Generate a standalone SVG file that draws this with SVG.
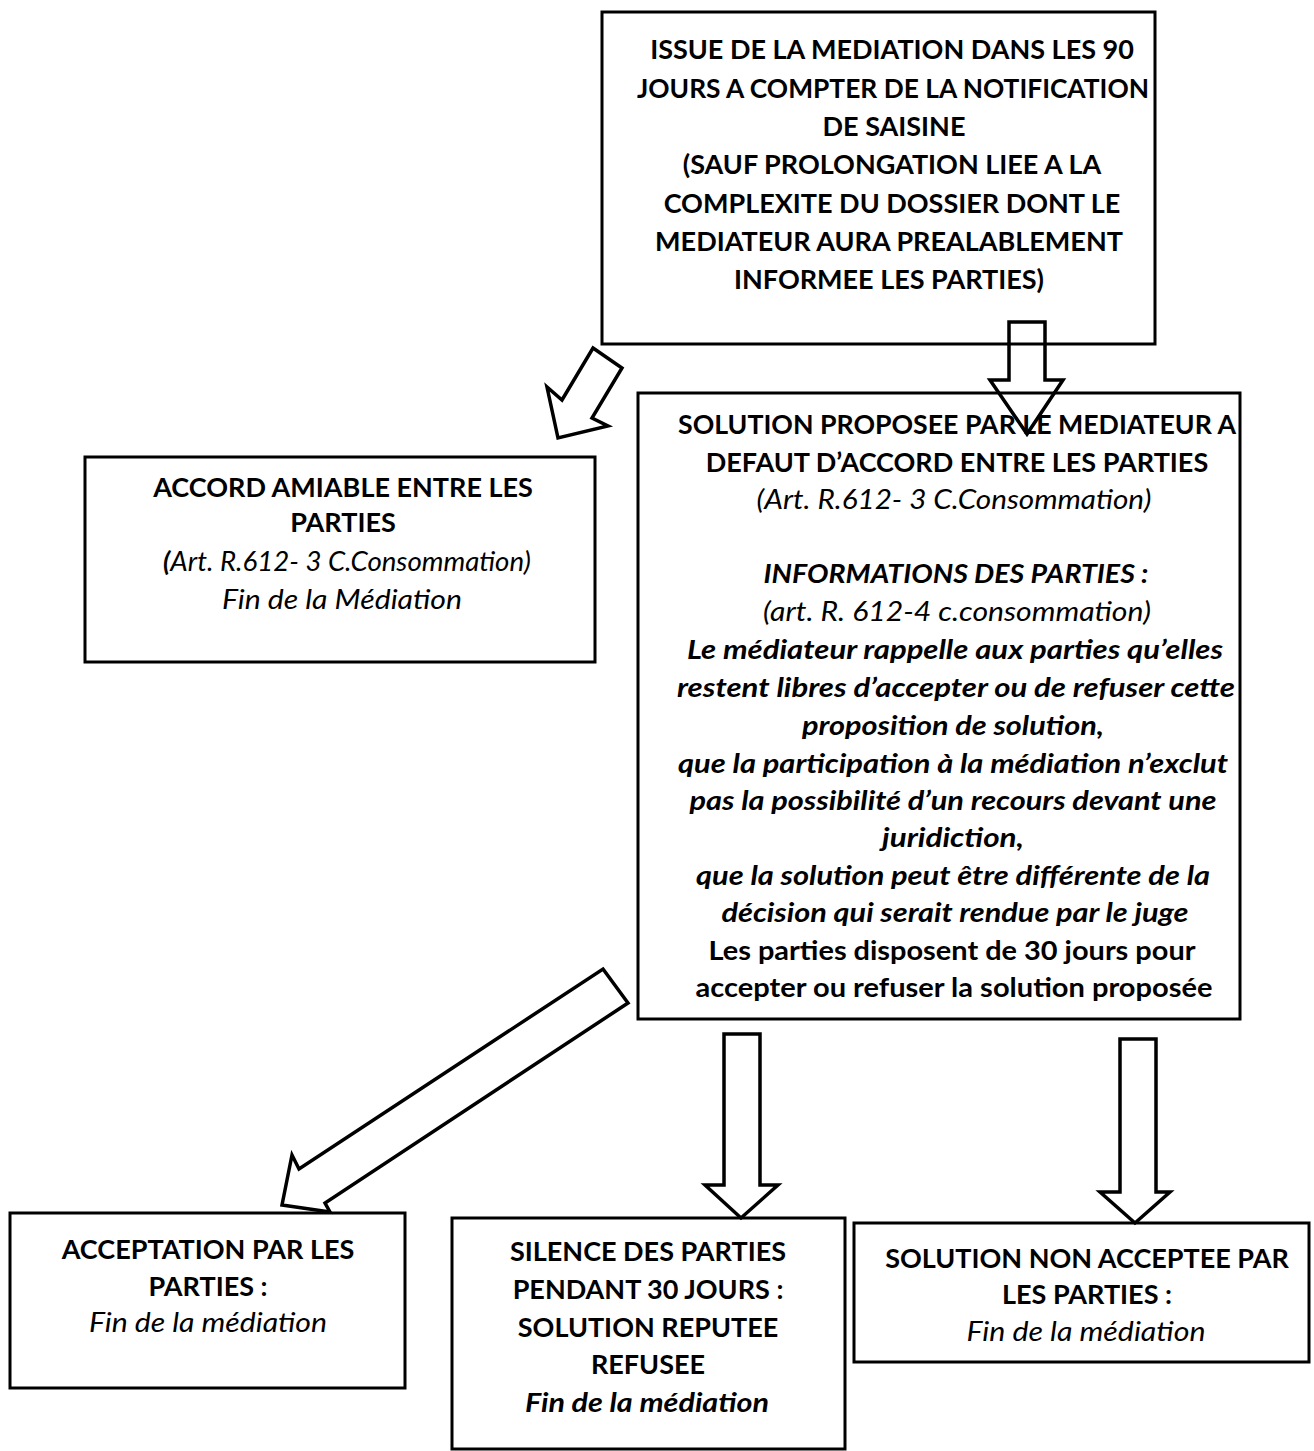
<svg xmlns="http://www.w3.org/2000/svg" width="1314" height="1451" viewBox="0 0 1314 1451">
<style>
.box{fill:#fff;stroke:#000;stroke-width:3}
.arr{fill:none;stroke:#000;stroke-width:3.5;stroke-linejoin:miter}
text{font-family:Lato,"Liberation Sans",sans-serif;font-size:27px;fill:#000;text-anchor:middle}
.b{font-weight:bold}
.i{font-style:italic}
.bi{font-weight:bold;font-style:italic}
</style>
<rect width="1314" height="1451" fill="#fff"/>
<g id="n-issue">
<rect class="box" x="602" y="12" width="553" height="332"/>
<text class="b" x="892" y="59">ISSUE DE LA MEDIATION DANS LES 90</text>
<text class="b" x="893" y="98" textLength="512" lengthAdjust="spacingAndGlyphs">JOURS A COMPTER DE LA NOTIFICATION</text>
<text class="b" x="894" y="136">DE SAISINE</text>
<text class="b" x="892" y="174">(SAUF PROLONGATION LIEE A LA</text>
<text class="b" x="892" y="213">COMPLEXITE DU DOSSIER  DONT LE</text>
<text class="b" x="889" y="251">MEDIATEUR AURA PREALABLEMENT</text>
<text class="b" x="889" y="289">INFORMEE LES PARTIES)</text>
</g>
<g id="n-accord">
<rect class="box" x="85" y="457" width="510" height="205"/>
<text class="b" x="343" y="497">ACCORD AMIABLE ENTRE LES</text>
<text class="b" x="343" y="532">PARTIES</text>
<text class="i" x="347" y="571" textLength="368" lengthAdjust="spacingAndGlyphs"><tspan class="bi">(</tspan>Art. R.612- 3 C.Consommation)</text>
<text class="i" x="342" y="609" textLength="240" lengthAdjust="spacingAndGlyphs">Fin de la Médiation</text>
</g>
<g id="n-solution">
<rect class="box" x="638" y="393" width="602" height="626"/>
<text class="b" x="957" y="434" textLength="558" lengthAdjust="spacingAndGlyphs">SOLUTION PROPOSEE PAR LE MEDIATEUR A</text>
<text class="b" x="957" y="472">DEFAUT D’ACCORD ENTRE LES PARTIES</text>
<text class="i" x="954" y="509" textLength="395" lengthAdjust="spacingAndGlyphs">(Art. R.612- 3 C.Consommation)</text>
<text class="bi" x="956" y="583" textLength="385" lengthAdjust="spacingAndGlyphs">INFORMATIONS DES PARTIES :</text>
<text class="i" x="957" y="621" textLength="388" lengthAdjust="spacingAndGlyphs">(art. R. 612-4 c.consommation)</text>
<text class="bi" x="955" y="659" textLength="536" lengthAdjust="spacingAndGlyphs">Le médiateur rappelle aux parties qu’elles</text>
<text class="bi" x="956" y="697" textLength="558" lengthAdjust="spacingAndGlyphs">restent libres d’accepter ou de refuser cette</text>
<text class="bi" x="953" y="735" textLength="302" lengthAdjust="spacingAndGlyphs">proposition de solution,</text>
<text class="bi" x="953" y="773" textLength="550" lengthAdjust="spacingAndGlyphs">que la participation à la médiation n’exclut</text>
<text class="bi" x="953" y="810" textLength="527" lengthAdjust="spacingAndGlyphs">pas la possibilité d’un recours devant une</text>
<text class="bi" x="953" y="847" textLength="142" lengthAdjust="spacingAndGlyphs">juridiction,</text>
<text class="bi" x="953" y="885" textLength="514" lengthAdjust="spacingAndGlyphs">que la solution peut être différente de la</text>
<text class="bi" x="955" y="922" textLength="467" lengthAdjust="spacingAndGlyphs">décision qui serait rendue par le juge</text>
<text class="b" x="952" y="960" textLength="487" lengthAdjust="spacingAndGlyphs">Les parties disposent de 30 jours pour</text>
<text class="b" x="954" y="997" textLength="517" lengthAdjust="spacingAndGlyphs">accepter ou refuser la solution proposée</text>
</g>
<g id="n-acceptation">
<rect class="box" x="10" y="1213" width="395" height="175"/>
<text class="b" x="208" y="1259">ACCEPTATION PAR LES</text>
<text class="b" x="208" y="1296">PARTIES :</text>
<text class="i" x="208" y="1332" textLength="238" lengthAdjust="spacingAndGlyphs">Fin de la médiation</text>
</g>
<g id="n-silence">
<rect class="box" x="452" y="1218" width="393" height="231"/>
<text class="b" x="648" y="1261">SILENCE DES PARTIES</text>
<text class="b" x="648" y="1299">PENDANT 30 JOURS :</text>
<text class="b" x="648" y="1337">SOLUTION REPUTEE</text>
<text class="b" x="648" y="1374">REFUSEE</text>
<text class="bi" x="647" y="1412" textLength="244" lengthAdjust="spacingAndGlyphs">Fin de la médiation</text>
</g>
<g id="n-refus">
<rect class="box" x="854" y="1223" width="455" height="139"/>
<text class="b" x="1087" y="1268">SOLUTION NON ACCEPTEE PAR</text>
<text class="b" x="1087" y="1304">LES PARTIES :</text>
<text class="i" x="1086" y="1341" textLength="239" lengthAdjust="spacingAndGlyphs">Fin de la médiation</text>
</g>
<g id="connectors">
<polygon class="arr" points="1009,322 1045,322 1045,380 1063,380 1027,434 990,380 1009,380"/>
<polygon class="arr" points="593,348 622,368 592,418 608,426 558,438 547,387 562,400"/>
<polygon class="arr" points="603,969 628,1003 325,1203 330,1212 282,1205 292,1155 299,1169"/>
<polygon class="arr" points="724,1034 760,1034 760,1185 778,1185 741,1218 705,1185 724,1185"/>
<polygon class="arr" points="1120,1039 1156,1039 1156,1192 1170,1192 1135,1223 1100,1192 1120,1192"/>
</g>
</svg>
